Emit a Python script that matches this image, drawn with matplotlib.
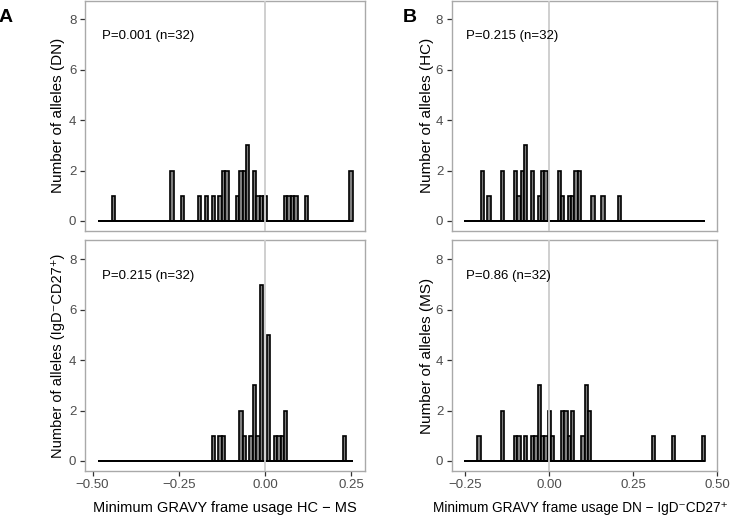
import numpy as np
import matplotlib.pyplot as plt

plt.rcParams['font.family'] = ['Liberation Sans', 'DejaVu Sans']

# Binned values (bin centre, allele count); bins are 0.01 wide
# left column: HC - MS, split into DN and IgD-CD27+
hcms_dn_x = [-0.44, -0.27, -0.24, -0.19, -0.17, -0.15, -0.13, -0.12, -0.11, -0.08, -0.07, -0.06,
             -0.05, -0.03, -0.02, -0.01, 0.00, 0.06, 0.07, 0.08, 0.09, 0.12, 0.25]
hcms_dn_n = [1, 2, 1, 1, 1, 1, 1, 2, 2, 1, 2, 2, 3, 2, 1, 1, 1, 1, 1, 1, 1, 1, 2]

hcms_mem_x = [-0.15, -0.13, -0.12, -0.07, -0.06, -0.04, -0.03, -0.02, -0.01, 0.01, 0.03, 0.04,
              0.05, 0.06, 0.23]
hcms_mem_n = [1, 1, 1, 2, 1, 1, 3, 1, 7, 5, 1, 1, 1, 2, 1]

# right column: DN - IgD-CD27+, split into HC and MS
dnmem_hc_x = [-0.20, -0.18, -0.14, -0.10, -0.09, -0.08, -0.07, -0.05, -0.03, -0.02, -0.01,
              0.03, 0.04, 0.06, 0.07, 0.08, 0.09, 0.13, 0.16, 0.21]
dnmem_hc_n = [2, 1, 2, 2, 1, 2, 3, 2, 1, 2, 2, 2, 1, 1, 1, 2, 2, 1, 1, 1]

dnmem_ms_x = [-0.21, -0.14, -0.10, -0.09, -0.07, -0.05, -0.04, -0.03, -0.02, -0.01, 0.00, 0.01,
              0.04, 0.05, 0.06, 0.07, 0.10, 0.11, 0.12, 0.31, 0.37, 0.46]
dnmem_ms_n = [1, 2, 1, 1, 1, 1, 1, 3, 1, 1, 2, 1, 2, 2, 1, 2, 1, 3, 2, 1, 1, 1]

p_labels = ['P=0.001 (n=32)', 'P=0.215 (n=32)', 'P=0.215 (n=32)', 'P=0.86 (n=32)']
ylabels = ['Number of alleles (DN)', 'Number of alleles (IgD\u207bCD27\u207a)',
           'Number of alleles (HC)', 'Number of alleles (MS)']
xlabels = ['Minimum GRAVY frame usage HC \u2212 MS',
           'Minimum GRAVY frame usage DN \u2212 IgD\u207bCD27\u207a']

left_edges = np.linspace(-0.485, 0.255, 75)
right_edges = np.linspace(-0.255, 0.465, 73)
left_ticks = [-0.5, -0.25, 0.0, 0.25]
right_ticks = [-0.25, 0.0, 0.25, 0.5]

fig = plt.figure(figsize=(7.4, 5.2), dpi=100)
W, H = 740.0, 520.0


def add_panel(x0, x1, y0, y1):
    return fig.add_axes([x0 / W, 1 - y1 / H, (x1 - x0) / W, (y1 - y0) / H])


axes = [
    add_panel(85, 365, 0.5, 230.7),
    add_panel(85, 365, 240.5, 470.7),
    add_panel(452, 717, 0.5, 230.7),
    add_panel(452, 717, 240.5, 470.7),
]
data = [(hcms_dn_x, hcms_dn_n), (hcms_mem_x, hcms_mem_n),
        (dnmem_hc_x, dnmem_hc_n), (dnmem_ms_x, dnmem_ms_n)]

for i, ax in enumerate(axes):
    left = i < 2
    edges = left_edges if left else right_edges
    xs, ns = data[i]
    ax.hist(xs, bins=edges, weights=ns, color='#7f7f7f', edgecolor='black',
            linewidth=1.2, zorder=2)
    # empty bins show up as a flat line along zero
    ax.plot([edges[0], edges[-1]], [0, 0], color='black', linewidth=1.4, zorder=2.5,
            solid_capstyle='butt')
    ax.axvline(0, color='#cccccc', linewidth=1.3, zorder=3)
    if left:
        ax.set_xlim(-0.522, 0.29)
    else:
        ax.set_xlim(-0.29, 0.4995)
    ax.set_ylim(-0.385, 8.75)
    ax.set_yticks([0, 2, 4, 6, 8])
    for s in ax.spines.values():
        s.set_color('#a9a9a9')
        s.set_linewidth(1.0)
    ax.tick_params(axis='both', colors='#333333', labelcolor='#4d4d4d', labelsize=9.5,
                   length=3.8, width=0.9, pad=2.5)
    ax.set_ylabel(ylabels[i], fontsize=10.5 if i == 1 else 11, labelpad=0)
    ax.yaxis.label.set_va('center')
    ax.yaxis.set_label_coords(-0.096 if left else -0.094, 0.5)
    ax.text(-0.473 if left else -0.248, 7.34, p_labels[i], fontsize=9.5,
            ha='left', va='center', color='black')
    ticks = left_ticks if left else right_ticks
    ax.set_xticks(ticks)
    if i % 2 == 0:
        ax.tick_params(axis='x', bottom=False, labelbottom=False)
    else:
        ax.set_xticklabels(['%.2f' % t if t >= 0 else '\u2212%.2f' % -t for t in ticks])
        ax.set_xlabel(xlabels[i // 2], fontsize=10.5 if left else 9.8)
        ax.xaxis.label.set_va('center')
        ax.xaxis.set_label_coords(0.5 if left else 0.483, -0.162)

fig.text(6 / W, 1 - 18 / H, 'A', fontsize=14, fontweight='bold', ha='center', va='center')
fig.text(410 / W, 1 - 18 / H, 'B', fontsize=14, fontweight='bold', ha='center', va='center')

fig.savefig('out.png', dpi=100)
